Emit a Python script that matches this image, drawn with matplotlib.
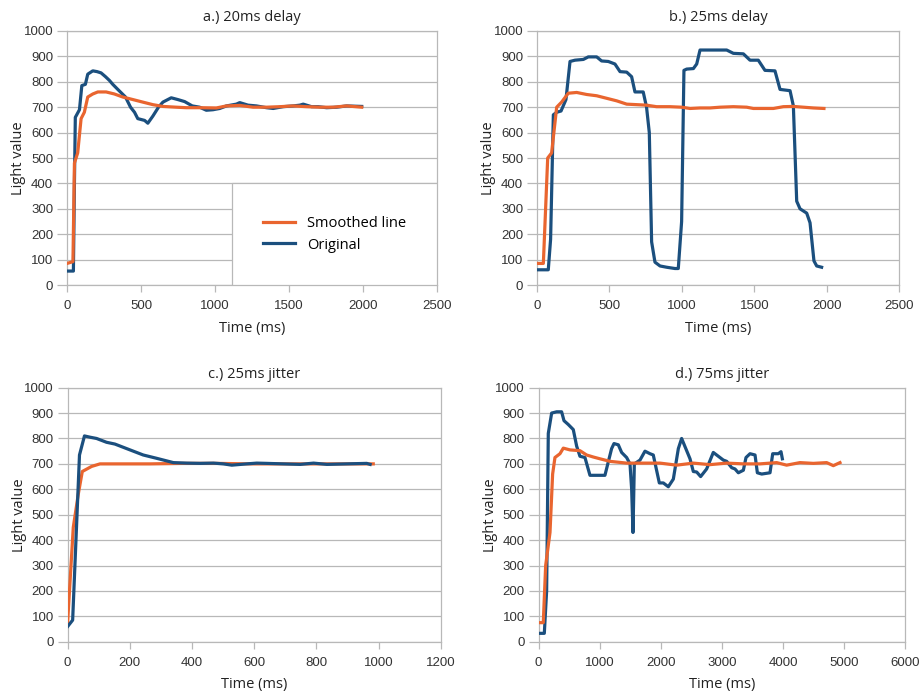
import matplotlib.pyplot as plt
from matplotlib.patches import Rectangle

# colours of the two series
ORANGE = '#E9652F'
BLUE = '#1B4F7E'
GRID = '#B8B8B8'

# a.) 20ms delay
a_orig_x = [0, 43, 50, 56, 84, 100, 124, 140, 174, 203, 230, 260, 287, 309, 343, 395, 429, 456,
            478, 524, 546, 580, 618, 648, 704, 749, 795, 846, 896, 941, 986, 1032, 1077, 1144,
            1167, 1223, 1280, 1348, 1393, 1460, 1528, 1573, 1596, 1652, 1697, 1754, 1822, 1889, 1991]
a_orig_y = [55, 55, 400, 660, 690, 785, 790, 830, 843, 840, 835, 820, 805, 790, 770, 740, 700, 680,
            655, 648, 637, 665, 700, 720, 737, 730, 722, 705, 700, 688, 690, 695, 705, 712,
            718, 708, 705, 698, 695, 702, 705, 708, 712, 702, 702, 698, 700, 705, 703]
a_smooth_x = [0, 40, 50, 72, 95, 117, 140, 174, 208, 264, 320, 377, 445, 512, 580, 648, 738, 806,
              896, 1009, 1077, 1167, 1257, 1348, 1438, 1528, 1618, 1709, 1799, 1889, 1991]
a_smooth_y = [85, 92, 480, 520, 655, 680, 740, 752, 760, 760, 752, 740, 730, 720, 710, 703, 700, 698,
              698, 697, 705, 707, 700, 700, 702, 705, 702, 700, 700, 705, 700]

# b.) 25ms delay
b_orig_x = [0, 78, 94, 113, 136, 166, 200, 228, 262, 320, 354, 412, 446, 492, 538, 573, 619, 653,
            676, 733, 756, 775, 791, 814, 849, 895, 952, 975, 998, 1014, 1033, 1079, 1102, 1125,
            1217, 1309, 1355, 1424, 1470, 1527, 1573, 1642, 1677, 1746, 1769, 1792, 1815, 1861,
            1884, 1911, 1930, 1964]
b_orig_y = [60, 60, 180, 670, 680, 685, 730, 880, 885, 888, 898, 898, 882, 880, 870, 840, 838, 820,
            760, 760, 700, 600, 170, 90, 75, 70, 65, 65, 250, 845, 850, 852, 870, 925,
            925, 925, 912, 910, 885, 885, 845, 843, 770, 765, 705, 330, 300, 283,
            245, 95, 75, 70]
b_smooth_x = [0, 44, 74, 101, 136, 170, 216, 274, 343, 412, 481, 550, 619, 688, 756, 825, 917, 998,
              1056, 1125, 1194, 1263, 1355, 1447, 1493, 1631, 1700, 1769, 1838, 1907, 1980]
b_smooth_y = [85, 85, 500, 520, 700, 720, 755, 758, 750, 745, 735, 725, 712, 710, 708, 702, 702, 700,
              695, 697, 697, 700, 702, 700, 695, 695, 702, 703, 700, 697, 695]

# c.) 25ms jitter
c_orig_x = [0, 16, 38, 54, 72, 93, 125, 152, 190, 243, 286, 340, 383, 426, 469, 501, 528, 576,
            608, 640, 694, 748, 791, 834, 898, 962, 973]
c_orig_y = [60, 85, 735, 810, 805, 800, 785, 778, 760, 735, 722, 705, 703, 702, 703, 700, 695, 700,
            703, 702, 700, 698, 703, 698, 700, 702, 698]
c_smooth_x = [0, 18, 34, 47, 77, 104, 158, 265, 372, 480, 587, 694, 801, 909, 983]
c_smooth_y = [80, 450, 580, 670, 690, 700, 700, 700, 702, 702, 700, 700, 700, 700, 700]

# d.) 75ms jitter
d_orig_x = [0, 93, 131, 158, 213, 295, 376, 415, 485, 567, 622, 676, 758, 840, 949, 1085, 1194,
            1233, 1304, 1358, 1440, 1495, 1522, 1544, 1566, 1659, 1740, 1822, 1876, 1975, 2040,
            2122, 2204, 2286, 2340, 2477, 2531, 2586, 2651, 2749, 2858, 3022, 3077, 3159, 3213,
            3268, 3350, 3393, 3459, 3541, 3579, 3650, 3786, 3830, 3922, 3966, 3988]
d_orig_y = [33, 33, 200, 820, 900, 905, 905, 870, 855, 835, 770, 730, 725, 655, 655, 655, 760,
            780, 775, 745, 725, 700, 600, 430, 700, 715, 750, 740, 735, 625, 625,
            610, 640, 760, 800, 720, 670, 668, 650, 680, 745, 715, 710, 685, 680,
            665, 675, 725, 740, 735, 665, 660, 665, 740, 740, 748, 720]
d_smooth_x = [0, 76, 115, 186, 229, 267, 349, 404, 513, 676, 785, 895, 1004, 1167, 1440, 1713,
              1986, 2258, 2531, 2804, 3077, 3350, 3622, 3895, 4058, 4276, 4495, 4713, 4822, 4931]
d_smooth_y = [75, 75, 300, 430, 660, 725, 740, 762, 755, 752, 735, 727, 720, 710, 703, 703,
              703, 695, 703, 697, 703, 700, 700, 705, 695, 705, 702, 705, 693, 705]

titles = ['a.) 20ms delay', 'b.) 25ms delay', 'c.) 25ms jitter', 'd.) 75ms jitter']
xmaxes = [2500, 2500, 1200, 6000]
xsteps = [500, 500, 200, 1000]
positions = [[0.0727, 0.5887, 0.4013, 0.3666],
             [0.5824, 0.5887, 0.3930, 0.3666],
             [0.0734, 0.0740, 0.4046, 0.3666],
             [0.5842, 0.0740, 0.3977, 0.3666]]

series = [(a_orig_x, a_orig_y, a_smooth_x, a_smooth_y),
          (b_orig_x, b_orig_y, b_smooth_x, b_smooth_y),
          (c_orig_x, c_orig_y, c_smooth_x, c_smooth_y),
          (d_orig_x, d_orig_y, d_smooth_x, d_smooth_y)]

fig = plt.figure(figsize=(9.22, 6.93), dpi=100)
label_font = {'family': 'Open Sans', 'size': 10.5, 'color': '#222222'}

for i in range(4):
    ax = fig.add_axes(positions[i])
    ox, oy, sx, sy = series[i]
    # in c.) the original sits on top of the smoothed line
    z_orig, z_smooth = (4, 3) if i == 2 else (3, 4)
    ax.plot(sx, sy, color=ORANGE, lw=2.3, zorder=z_smooth, label='Smoothed line')
    ax.plot(ox, oy, color=BLUE, lw=2.3, zorder=z_orig, label='Original')

    ax.set_xlim(0, xmaxes[i])
    ax.set_ylim(0, 1000)
    ax.set_xticks(range(0, xmaxes[i] + 1, xsteps[i]))
    ax.set_yticks(range(0, 1001, 100))
    ax.grid(axis='y', color=GRID, lw=0.9)
    ax.set_axisbelow(True)
    for side in ['left', 'right', 'top', 'bottom']:
        ax.spines[side].set_color(GRID)
        ax.spines[side].set_linewidth(0.9)
    ax.tick_params(colors=GRID, width=0.9, labelsize=9.5, labelcolor='#333333')
    ax.tick_params(axis='x', length=5, pad=6)
    ax.tick_params(axis='y', length=7, pad=3)
    for lab in ax.get_xticklabels() + ax.get_yticklabels():
        lab.set_fontfamily('Liberation Sans')

    ax.set_title(titles[i], fontdict=label_font, pad=7)
    ax.set_xlabel('Time (ms)', fontdict=label_font, labelpad=6)
    ax.set_ylabel('Light value', fontdict=label_font, labelpad=-2)

    if i == 0:
        # opaque legend box in the lower right of panel a
        ax.add_patch(Rectangle((0.446, 0.0), 0.554, 0.40, transform=ax.transAxes,
                               facecolor='white', edgecolor=GRID, lw=0.9, zorder=5))
        leg = ax.legend(loc='center', bbox_to_anchor=(0.446, 0.0, 0.554, 0.40),
                        frameon=False, prop={'family': 'Open Sans', 'size': 10.5},
                        handlelength=2.2, labelspacing=0.45)
        leg.set_zorder(6)

fig.savefig('out.png', dpi=100)
